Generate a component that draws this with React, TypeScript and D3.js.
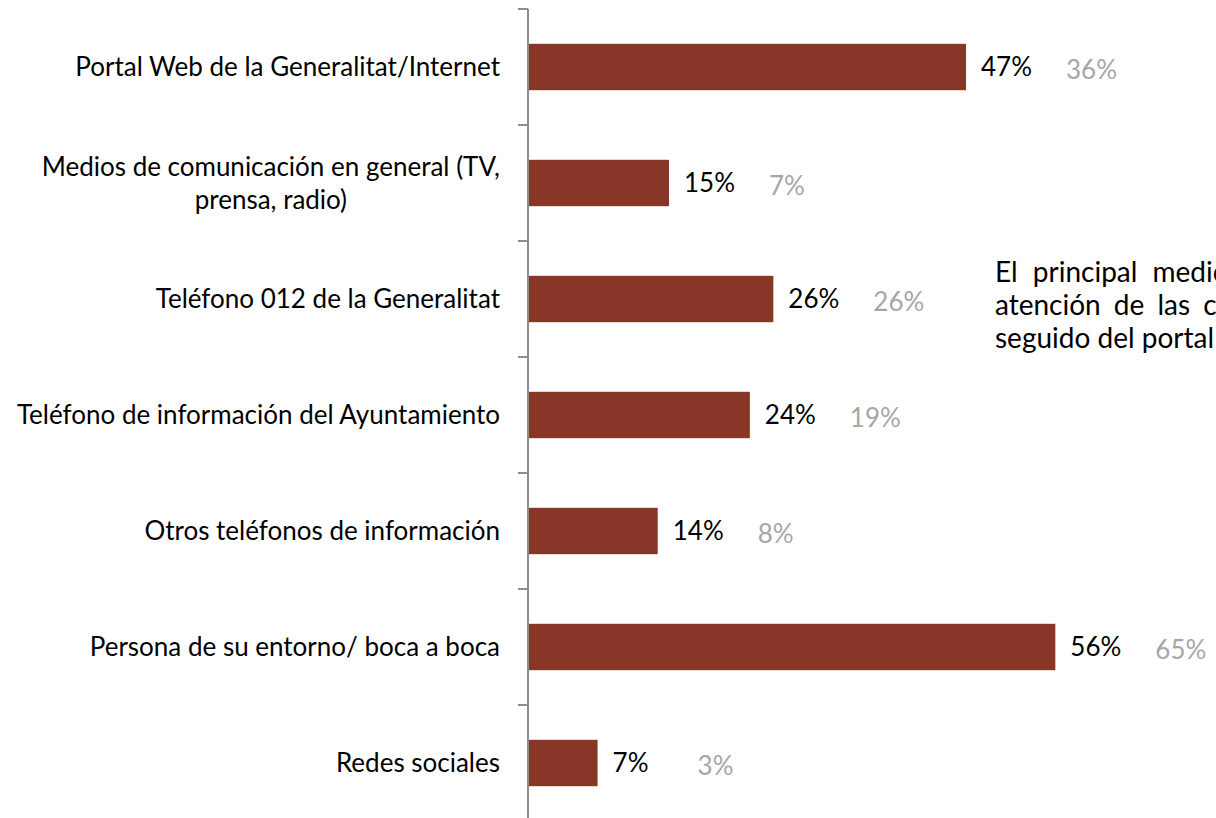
import React, { useEffect, useRef } from "react";
import * as d3 from "d3";

const categories: string[][] = [
  ["Portal Web de la Generalitat/Internet"],
  ["Medios de comunicación en general (TV,", "prensa, radio)"],
  ["Teléfono 012 de la Generalitat"],
  ["Teléfono de información del Ayuntamiento"],
  ["Otros teléfonos de información"],
  ["Persona de su entorno/ boca a boca"],
  ["Redes sociales"],
];
const currentValues: number[] = [46.6, 15.0, 26.1, 23.6, 13.8, 56.1, 7.4];
const previousValues: number[] = [36, 7, 26, 19, 8, 65, 3];
const noteLines: string[] = [
  "El principal medio",
  "atención de las ciudadanas",
  "seguido del portal web",
];

const W = 1216;
const H = 818;
const FONT = "Lato, 'Noto Sans', sans-serif";

export default function App() {
  const ref = useRef<SVGSVGElement | null>(null);

  useEffect(() => {
    const svg = d3.select(ref.current);
    svg.selectAll("*").remove();

    const axisX = 528;
    const top = 9;
    const bottom = 821;
    const fs = 26;

    const keys = categories.map((_, i) => String(i));
    const y = d3
      .scaleBand<string>()
      .domain(keys)
      .range([top, bottom])
      .paddingInner(0.6)
      .paddingOuter(0.3);
    const x = d3.scaleLinear().domain([0, 100]).range([axisX, axisX + 940]);
    const fmt = (v: number) => d3.format(".0f")(v) + "%";

    // bars
    svg
      .append("g")
      .selectAll("rect")
      .data(currentValues)
      .join("rect")
      .attr("x", x(0))
      .attr("y", (_, i) => y(keys[i]) as number)
      .attr("width", (d) => x(d) - x(0))
      .attr("height", y.bandwidth())
      .attr("fill", "#873627");

    // axis
    const step = y.step();
    const tickYs = d3.range(keys.length + 1).map((i) => top + i * step);
    const ag = svg.append("g");
    ag.append("line")
      .attr("x1", axisX)
      .attr("x2", axisX)
      .attr("y1", top)
      .attr("y2", bottom)
      .attr("stroke", "#8c8c8c")
      .attr("stroke-width", 2);
    ag.selectAll("line.tick")
      .data(tickYs)
      .join("line")
      .attr("class", "tick")
      .attr("x1", axisX - 10)
      .attr("x2", axisX)
      .attr("y1", (d) => d)
      .attr("y2", (d) => d)
      .attr("stroke", "#8c8c8c")
      .attr("stroke-width", 2);

    // category labels
    const lg = svg.append("g").attr("font-family", FONT).attr("font-size", fs).attr("fill", "#000");
    const lineH = 33;
    categories.forEach((lines, i) => {
      const cy = (y(keys[i]) as number) + y.bandwidth() / 2;
      const n = lines.length;
      const first = lg
        .append("text")
        .attr("x", axisX - 28)
        .attr("y", cy - ((n - 1) * lineH) / 2)
        .attr("dy", "0.35em")
        .attr("text-anchor", "end")
        .text(lines[0]);
      const w0 = (first.node() as SVGTextElement).getComputedTextLength();
      for (let k = 1; k < n; k++) {
        lg.append("text")
          .attr("x", axisX - 28 - w0 / 2)
          .attr("y", cy - ((n - 1) * lineH) / 2 + k * lineH)
          .attr("dy", "0.35em")
          .attr("text-anchor", "middle")
          .text(lines[k]);
      }
    });

    // value labels
    const vg = svg.append("g").attr("font-family", FONT).attr("font-size", fs);
    vg.selectAll("text.cur")
      .data(currentValues)
      .join("text")
      .attr("class", "cur")
      .attr("x", (d) => x(d) + 15)
      .attr("y", (_, i) => (y(keys[i]) as number) + y.bandwidth() / 2)
      .attr("dy", "0.35em")
      .attr("fill", "#000")
      .text((d) => fmt(d));
    vg.selectAll("text.prev")
      .data(previousValues)
      .join("text")
      .attr("class", "prev")
      .attr("x", (_, i) => x(currentValues[i]) + 100)
      .attr("y", (_, i) => (y(keys[i]) as number) + y.bandwidth() / 2 + 3)
      .attr("dy", "0.35em")
      .attr("fill", "#a6a6a6")
      .text((d) => fmt(d));

    // note paragraph (runs past the right edge and is clipped there)
    const ng = svg.append("g").attr("font-family", FONT).attr("font-size", 28).attr("fill", "#000");
    const spacings = [8, 6, 0];
    noteLines.forEach((t, i) => {
      ng.append("text")
        .attr("x", 995)
        .attr("y", 272 + i * 33)
        .attr("dy", "0.35em")
        .attr("word-spacing", spacings[i])
        .text(t);
    });
  }, []);

  return (
    <div
      style={{
        position: "absolute",
        left: 0,
        top: 0,
        width: W,
        height: H,
        overflow: "hidden",
        background: "#fff",
      }}
    >
      <svg ref={ref} width={W} height={H} style={{ display: "block" }} />
    </div>
  );
}
